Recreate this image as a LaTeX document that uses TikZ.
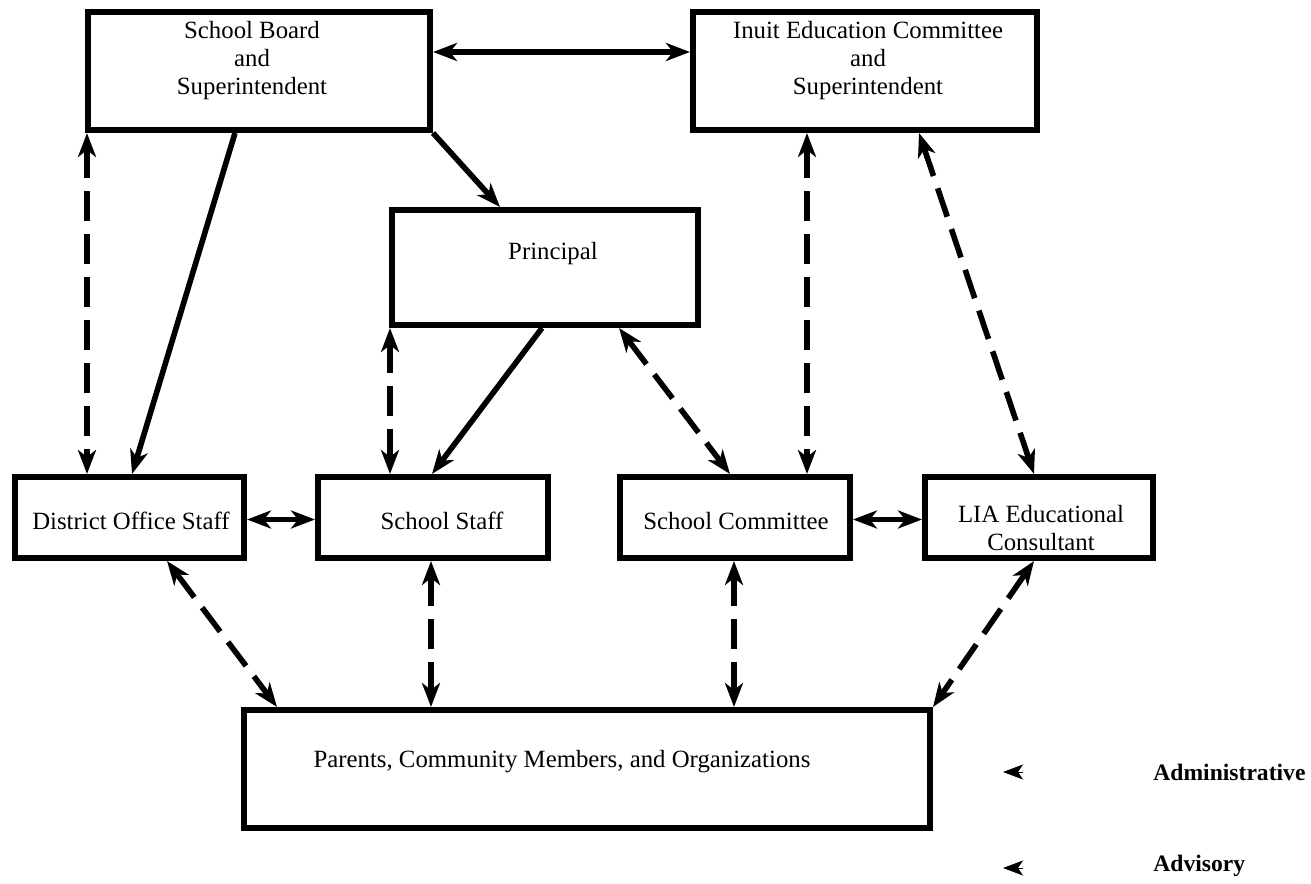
\documentclass[tikz,border=0pt]{standalone}
\usepackage{fontspec}
\setmainfont{Liberation Serif}
\usetikzlibrary{arrows.meta,calc}
\begin{document}
\begin{tikzpicture}[x=0.5pt,y=-0.5pt,
  >={Stealth[length=12pt,width=9pt,inset=3.5pt]},
  box/.style={draw,line width=3pt,rectangle,inner sep=0pt},
  lbl/.style={inner sep=0pt,align=center,font=\fontsize{12.4pt}{14pt}\selectfont},
  leg/.style={inner sep=0pt,anchor=west,font=\fontsize{11.8pt}{14pt}\selectfont\bfseries},
  solid line/.style={line width=2.8pt},
  adv/.style={line width=2.8pt,dash pattern=on 15pt off 6.5pt},
  legtip/.style={line width=0.5pt,-{Stealth[length=10pt,width=7.5pt,inset=2.5pt]}}]
\useasboundingbox (0,0) rectangle (1311,883);
% boxes
\node[box,minimum width=171pt,minimum height=59pt] (sb) at (259,71) {};
\node[box,minimum width=172pt,minimum height=59pt] (iec) at (865,71) {};
\node[box,minimum width=153pt,minimum height=57.5pt] (pr) at (545,267.5) {};
\node[box,minimum width=114.5pt,minimum height=40.5pt] (dos) at (129.5,517.5) {};
\node[box,minimum width=115pt,minimum height=40.5pt] (ss) at (433,517.5) {};
\node[box,minimum width=115pt,minimum height=40.5pt] (sc) at (735,517.5) {};
\node[box,minimum width=114pt,minimum height=40.5pt] (lia) at (1039,517.5) {};
\node[box,minimum width=343pt,minimum height=59pt] (par) at (587,769) {};
% texts
\node[lbl] (sbT) at (252,61) {School Board\\and\\Superintendent};
\node[lbl] (iecT) at (868,61) {Inuit Education Committee\\and\\Superintendent};
\node[lbl] (prT) at (553,254) {Principal};
\node[lbl] (dosT) at (131,521) {District Office Staff};
\node[lbl] (ssT) at (442,521) {School Staff};
\node[lbl] (scT) at (736,521) {School Committee};
\node[lbl] (liaT) at (1041,528) {LIA Educational\\Consultant};
\node[lbl] (parT) at (562,762) {Parents, Community Members, and Organizations};
\node[leg] (legAdm) at (1153,772) {Administrative};
\node[leg] (legAdv) at (1153,866) {Advisory};
% administrative (solid)
\draw[solid line,<->] ($(sb.east)+(0,-19)$) -- ($(iec.west)+(0,-19)$);
\draw[solid line,->] ($(sb.south west)+(150,0)$) -- ($(dos.north west)+(120,0)$);
\draw[solid line,->] (sb.south east) -- ($(pr.north west)+(111,0)$);
\draw[solid line,->] ($(pr.south west)+(153,0)$) -- ($(ss.north west)+(117,0)$);
\draw[solid line,<->] ($(dos.east)+(0,2)$) -- ($(ss.west)+(0,2)$);
\draw[solid line,<->] ($(sc.east)+(0,2)$) -- ($(lia.west)+(0,2)$);
% advisory (dashed)
\draw[adv,<->] ($(sb.south west)+(2,0)$) -- ($(dos.north west)+(75,0)$);
\draw[adv,<->] ($(pr.south west)+(1,0)$) -- ($(ss.north west)+(75,0)$);
\draw[adv,<->] ($(pr.south west)+(230,0)$) -- ($(sc.north west)+(113,0)$);
\draw[adv,<->] ($(iec.south west)+(117,0)$) -- ($(sc.north west)+(190,0)$);
\draw[adv,<->] ($(iec.south west)+(229,0)$) -- ($(lia.north west)+(112,0)$);
\draw[adv,<->] ($(dos.south west)+(155,0)$) -- ($(par.north west)+(36,0)$);
\draw[adv,<->] ($(ss.south west)+(116,0)$) -- ($(par.north west)+(190,0)$);
\draw[adv,<->] ($(sc.south west)+(117,0)$) -- ($(par.north west)+(493,0)$);
\draw[adv,<->] ($(lia.south west)+(112,0)$) -- (par.north east);
% legend tips
\coordinate (l1a) at (1023,772);
\coordinate (l1b) at (1003,772);
\coordinate (l2a) at (1023,868);
\coordinate (l2b) at (1003,868);
\draw[legtip] (l1a) -- (l1b);
\draw[legtip] (l2a) -- (l2b);
\end{tikzpicture}
\end{document}
